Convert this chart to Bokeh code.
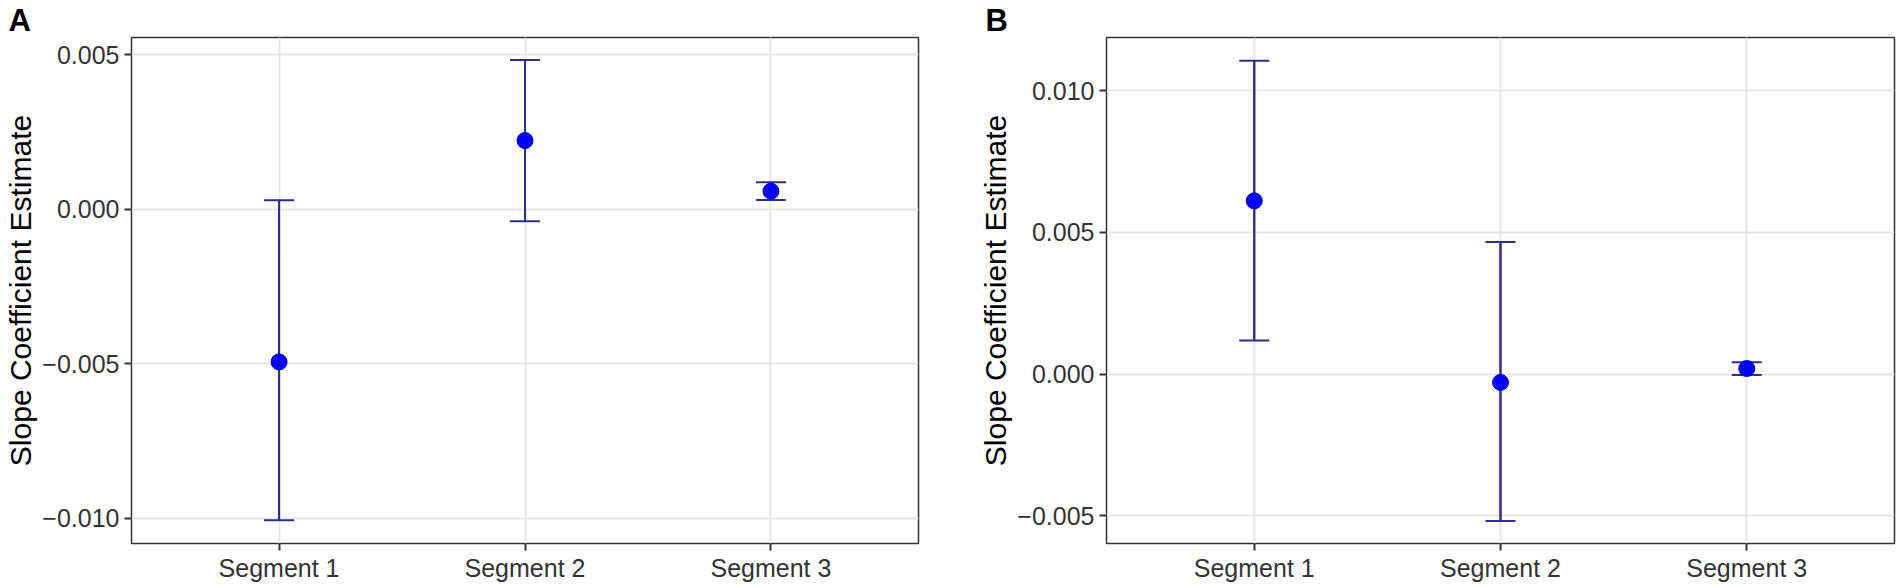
from bokeh.plotting import figure
from bokeh.models import (FactorRange, Range1d, FixedTicker, CustomJSTickFormatter,
                          Whisker, TeeHead, ColumnDataSource)
from bokeh.layouts import row
from bokeh.embed import file_html
from bokeh.resources import INLINE

segments = ["Segment 1", "Segment 2", "Segment 3"]

# Panel A
a_est = [-0.00494, 0.00222, 0.00058]
a_lower = [-0.01006, -0.00039, 0.00030]
a_upper = [0.00029, 0.00482, 0.00087]
a_ticks = [-0.010, -0.005, 0.000, 0.005]
a_ylim = (-0.01081, 0.00555)

# Panel B
b_est = [0.00611, -0.00029, 0.00020]
b_lower = [0.00119, -0.00518, -0.00003]
b_upper = [0.01105, 0.00466, 0.00042]
b_ticks = [-0.005, 0.000, 0.005, 0.010]
b_ylim = (-0.00597, 0.01187)

FONT = "Liberation Sans"
LINE = "#2d2d8a"


def make_panel(tag, est, lower, upper, ticks, ylim, width, bl, br, tag_off):
    p = figure(
        title=tag,
        x_range=FactorRange(factors=segments, range_padding=0.2 / 3),
        y_range=Range1d(*ylim),
        width=width, height=587,
        min_border_left=bl, min_border_right=br,
        min_border_top=35, min_border_bottom=44,
        output_backend="svg", toolbar_location=None,
    )
    p.title.align = "left"
    p.title.offset = tag_off
    p.title.standoff = 0
    p.title.text_font = FONT
    p.title.text_font_size = "31px"
    p.title.text_font_style = "bold"
    p.title.text_color = "black"

    p.background_fill_color = "white"
    p.border_fill_color = "white"
    p.outline_line_color = "#333333"
    p.outline_line_width = 1.5

    p.xgrid.grid_line_color = "#e6e6e6"
    p.ygrid.grid_line_color = "#e6e6e6"
    p.xgrid.grid_line_width = 2
    p.ygrid.grid_line_width = 2

    p.yaxis.ticker = FixedTicker(ticks=ticks, minor_ticks=[])
    p.yaxis.formatter = CustomJSTickFormatter(
        code='return (tick < -1e-12 ? "\\u2212" : "") + Math.abs(tick).toFixed(3);')

    for ax in (p.xaxis[0], p.yaxis[0]):
        ax.axis_line_color = None
        ax.major_tick_line_color = "#333333"
        ax.major_tick_line_width = 2
        ax.major_tick_out = 7
        ax.major_tick_in = 0
        ax.minor_tick_line_color = None
        ax.major_label_text_font = FONT
        ax.major_label_text_font_size = "25px"
        ax.major_label_text_color = "#333333"
    p.xaxis.major_label_standoff = 3
    p.yaxis.major_label_standoff = 5

    p.yaxis.axis_label = "Slope Coefficient Estimate"
    p.yaxis.axis_label_text_font = FONT
    p.yaxis.axis_label_text_font_size = "30px"
    p.yaxis.axis_label_text_font_style = "normal"
    p.yaxis.axis_label_text_color = "black"
    p.yaxis.axis_label_standoff = 2

    src = ColumnDataSource(dict(x=segments, est=est, lower=lower, upper=upper))
    p.segment(x0="x", y0="lower", x1="x", y1="upper", source=src,
              line_color=LINE, line_width=2)
    w = Whisker(base="x", lower="lower", upper="upper", source=src,
                dimension="height", line_color=LINE, line_width=2,
                upper_head=TeeHead(size=30, line_color=LINE, line_width=2),
                lower_head=TeeHead(size=30, line_color=LINE, line_width=2))
    p.add_layout(w)
    p.scatter(x="x", y="est", source=src, size=16, fill_color="#0000ff",
              line_color="#0000cc", line_width=1)
    return p


pa = make_panel("A", a_est, a_lower, a_upper, a_ticks, a_ylim, 950, 131, 32, -123)
pb = make_panel("B", b_est, b_lower, b_upper, b_ticks, b_ylim, 952, 156, 8, -121)

layout = row(pa, pb)
open("out.html", "w").write(file_html(layout, INLINE))
